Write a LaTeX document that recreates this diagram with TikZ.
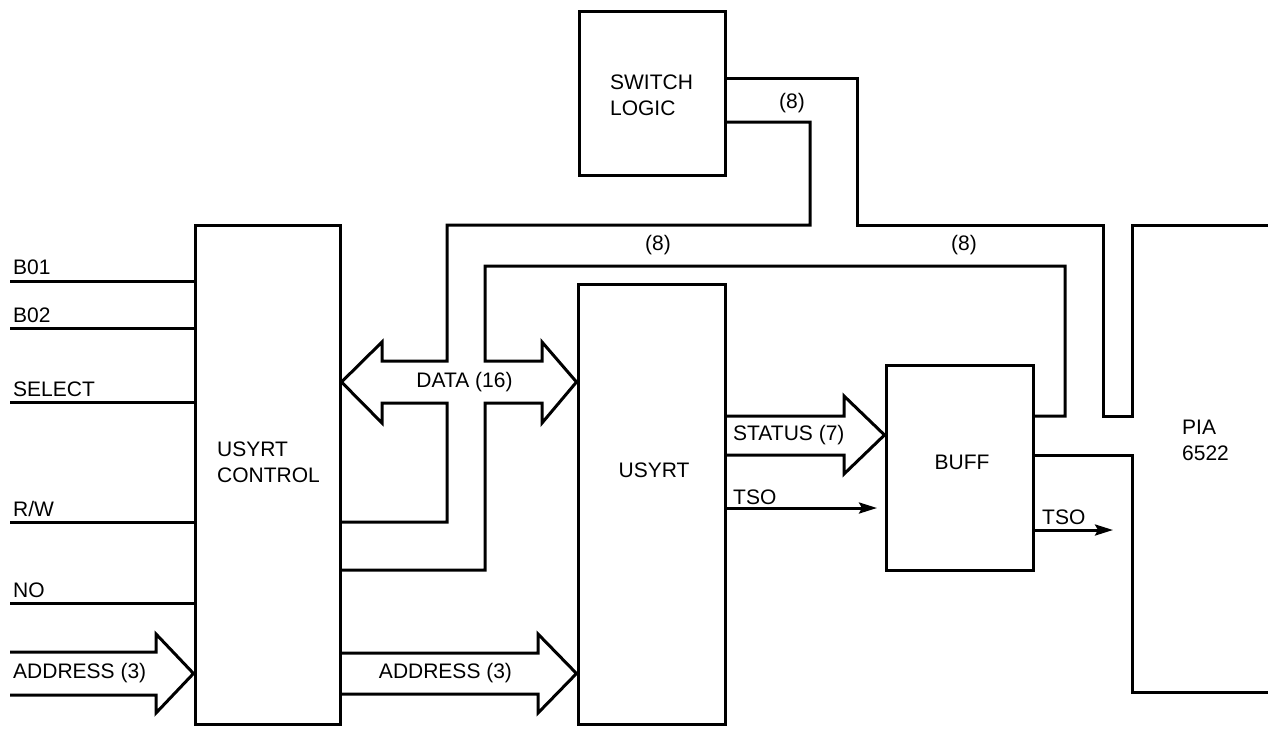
\documentclass[tikz,border=0pt]{standalone}
\usepackage{fontspec}
\setmainfont{Liberation Sans}
\usetikzlibrary{arrows.meta}
\begin{document}
\begin{tikzpicture}[x=1pt,y=-1pt,
  wire/.style={line width=3pt, line join=miter},
  blk/.style={draw, line width=3pt, inner sep=0pt, rectangle},
  lab/.style={font=\fontsize{21}{26}\selectfont, inner sep=0pt, align=left},
  sig/.style={wire, -{Stealth[length=18pt,width=11pt,inset=3pt]}}]
\useasboundingbox (0,0) rectangle (1268,728);

% blocks
\node[blk, minimum width=145pt, minimum height=499pt] (ctrl) at (267.5,474.5) {};
\node[blk, minimum width=147pt, minimum height=440pt] (usyrt) at (651.5,504) {};
\node[blk, minimum width=146pt, minimum height=164pt] (sw) at (652,93) {};
\node[blk, minimum width=147pt, minimum height=205pt] (buff) at (959.5,467.5) {};

% block labels
\node[lab] (ctrlL) at (268.5,462) {USYRT\\CONTROL};
\node[lab] (usyrtL) at (654,470) {USYRT};
\node[lab] (swL) at (651.5,95) {SWITCH\\LOGIC};
\node[lab] (buffL) at (962,462) {BUFF};
\node[lab, anchor=west] (piaL) at (1182,440) {PIA\\6522};

% input signals
\coordinate (iB1) at (10,281);
\coordinate (iB2) at (10,328);
\coordinate (iSel) at (10,402);
\coordinate (iRW) at (10,522);
\coordinate (iNO) at (10,603);
\draw[wire] (iB1) -- (iB1 -| ctrl.west);
\draw[wire] (iB2) -- (iB2 -| ctrl.west);
\draw[wire] (iSel) -- (iSel -| ctrl.west);
\draw[wire] (iRW) -- (iRW -| ctrl.west);
\draw[wire] (iNO) -- (iNO -| ctrl.west);
\node[lab, anchor=base west] (lB1) at (13,274) {B01};
\node[lab, anchor=base west] (lB2) at (13,322) {B02};
\node[lab, anchor=base west] (lSel) at (13,396) {SELECT};
\node[lab, anchor=base west] (lRW) at (13,516) {R/W};
\node[lab, anchor=base west] (lNO) at (13,597) {NO};

% ADDRESS (3) input wide arrow
\draw[wire] (10,652) -- (156,652) -- (156,634) -- (ctrl.west |- 0,673.5) -- (156,713) -- (156,695) -- (10,695);
\node[lab, anchor=west] (lAddrIn) at (13,673.5) {ADDRESS (3)};

% DATA (16) left head with bus to switch logic and R/W level
\coordinate (swLow) at (0,122);
\coordinate (rwOut) at (0,522);
\draw[wire] (sw.east |- swLow) -- (810,122) -- (810,225) -- (447,225) -- (447,361)
  -- (382,361) -- (382,342) -- (ctrl.east |- 0,382) -- (382,423) -- (382,403)
  -- (447,403) -- (447,522) -- (ctrl.east |- rwOut);

% DATA (16) right head with bus to BUFF
\coordinate (busLow) at (0,570);
\coordinate (buffTop) at (0,416);
\draw[wire] (ctrl.east |- busLow) -- (485,570) -- (485,403) -- (542,403) -- (542,423)
  -- (usyrt.west |- 0,382) -- (542,342) -- (542,361) -- (485,361) -- (485,266)
  -- (1065,266) -- (1065,416) -- (buff.east |- buffTop);
\node[lab] (lData) at (464.5,382) {DATA (16)};
\node[lab] (l8a) at (658,245) {(8)};
\node[lab] (l8b) at (964,245) {(8)};

% switch logic upper bus into PIA (notch)
\coordinate (swUp) at (0,78);
\coordinate (piaTopR) at (1268,225);
\draw[wire] (sw.east |- swUp) -- (857,78) -- (857,225) -- (1103,225) -- (1103,416)
  -- (1132,416) -- (1132,225) -- (piaTopR);
\node[lab] (l8c) at (792,103) {(8)};

% PIA lower part from BUFF
\coordinate (buffMid) at (0,455);
\coordinate (piaBotR) at (1268,692);
\draw[wire] (buff.east |- buffMid) -- (1132,455) -- (1132,692) -- (piaBotR);

% STATUS (7) wide arrow
\draw[wire] (usyrt.east |- 0,416) -- (844,416) -- (844,396) -- (buff.west |- 0,435)
  -- (844,474) -- (844,455) -- (usyrt.east |- 0,455);
\node[lab, anchor=west] (lStat) at (733,435.5) {STATUS (7)};

% ADDRESS (3) middle wide arrow
\draw[wire] (ctrl.east |- 0,653) -- (538,653) -- (538,634) -- (usyrt.west |- 0,673.5)
  -- (538,713) -- (538,694) -- (ctrl.east |- 0,694);
\node[lab] (lAddrMid) at (445.5,673.5) {ADDRESS (3)};

% TSO signals
\coordinate (tso1end) at (877,508);
\coordinate (tso2end) at (1113,530);
\draw[sig] (usyrt.east |- tso1end) -- (tso1end);
\node[lab, anchor=base west] (lTso1) at (733,504) {TSO};
\draw[sig] (buff.east |- tso2end) -- (tso2end);
\node[lab, anchor=base west] (lTso2) at (1042,524) {TSO};
\end{tikzpicture}
\end{document}
